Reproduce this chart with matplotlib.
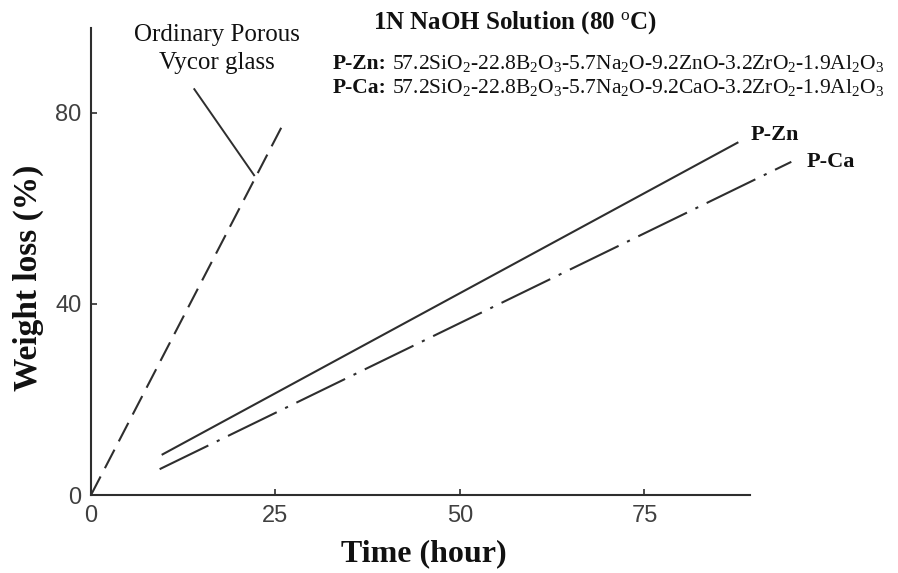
import matplotlib
matplotlib.use("Agg")
import matplotlib.pyplot as plt

plt.rcParams['mathtext.fontset'] = 'custom'
plt.rcParams['mathtext.rm'] = 'Liberation Serif'
plt.rcParams['mathtext.it'] = 'Liberation Serif:italic'
plt.rcParams['mathtext.bf'] = 'Liberation Serif:bold'

INK = '#2e2e2e'

# weight loss curves in 1N NaOH at 80 C
vycor_time = [0, 26.0]
vycor_loss = [0, 77.5]

zn_time = [9.7, 87.6]
zn_loss = [8.5, 73.7]

ca_time = [9.3, 94.9]
ca_loss = [5.4, 69.7]

# pointer from the Vycor label down to its curve
pointer_time = [14.0, 22.1]
pointer_loss = [84.9, 66.9]

x_ticks = [0, 25, 50, 75]
y_ticks = [0, 40, 80]

zn_comp = r"57.2SiO$_2$-22.8B$_2$O$_3$-5.7Na$_2$O-9.2ZnO-3.2ZrO$_2$-1.9Al$_2$O$_3$"
ca_comp = r"57.2SiO$_2$-22.8B$_2$O$_3$-5.7Na$_2$O-9.2CaO-3.2ZrO$_2$-1.9Al$_2$O$_3$"

fig = plt.figure(figsize=(8.98, 5.73), dpi=100)
ax = fig.add_axes([91 / 898, 78 / 573, 659 / 898, 467 / 573])

ax.plot(vycor_time, vycor_loss, color=INK, lw=1.5, dashes=(10, 4.5), clip_on=False)
ax.plot(zn_time, zn_loss, color=INK, lw=1.5, clip_on=False)
ax.plot(ca_time, ca_loss, color=INK, lw=1.5, dashes=(26, 4.5, 1.5, 4.5), clip_on=False)
ax.plot(pointer_time, pointer_loss, color=INK, lw=1.4, clip_on=False)

ax.set_xlim(0, 89.3)
ax.set_ylim(0, 97.7)
ax.set_xticks(x_ticks)
ax.set_yticks(y_ticks)

for s in ['top', 'right']:
    ax.spines[s].set_visible(False)
for s in ['left', 'bottom']:
    ax.spines[s].set_linewidth(1.5)
    ax.spines[s].set_color(INK)

ax.tick_params(direction='in', length=4, width=1.2, color=INK,
               labelsize=17, labelcolor='#404040', pad=7)
for lab in ax.get_xticklabels() + ax.get_yticklabels():
    lab.set_family('Liberation Sans')

serif_bold = dict(family='Liberation Serif', weight='bold', color='#111111')

ax.set_xlabel('Time (hour)', fontsize=23, **serif_bold)
ax.xaxis.set_label_coords(0.505, -0.095)
ax.set_ylabel('Weight loss (%)', fontsize=24, **serif_bold)
ax.yaxis.set_label_coords(-0.072, 0.465)

# curve labels at the line ends
ax.annotate('P-Zn', xy=(zn_time[-1], zn_loss[-1]), xytext=(9.5, 5.5),
            textcoords='offset points', ha='left', va='center',
            fontsize=16, annotation_clip=False, **serif_bold)
ax.annotate('P-Ca', xy=(ca_time[-1], ca_loss[-1]), xytext=(11, 0),
            textcoords='offset points', ha='left', va='center',
            fontsize=16, annotation_clip=False, **serif_bold)

fig.text(217 / 898, 1 - 49 / 573, 'Ordinary Porous\nVycor glass', ha='center', va='center',
         fontsize=18, family='Liberation Serif', color='#111111', linespacing=1.4)

fig.text(373 / 898, 1 - 23 / 573, '1N NaOH Solution (80 $^{\\rm o}$C)', ha='left', va='center',
         fontsize=18, **serif_bold)

# glass compositions, bold name followed by the oxide formula
for name, comp, ypix in [('P-Zn:', zn_comp, 64), ('P-Ca:', ca_comp, 88)]:
    t = fig.text(333 / 898, 1 - ypix / 573, name, ha='left', va='center', fontsize=15.5, **serif_bold)
    ax.annotate(' ' + comp, xy=(1, 0.5), xycoords=t, ha='left', va='center',
                fontsize=15.5, family='Liberation Serif', color='#111111', annotation_clip=False)

fig.savefig('out.png', dpi=100)
